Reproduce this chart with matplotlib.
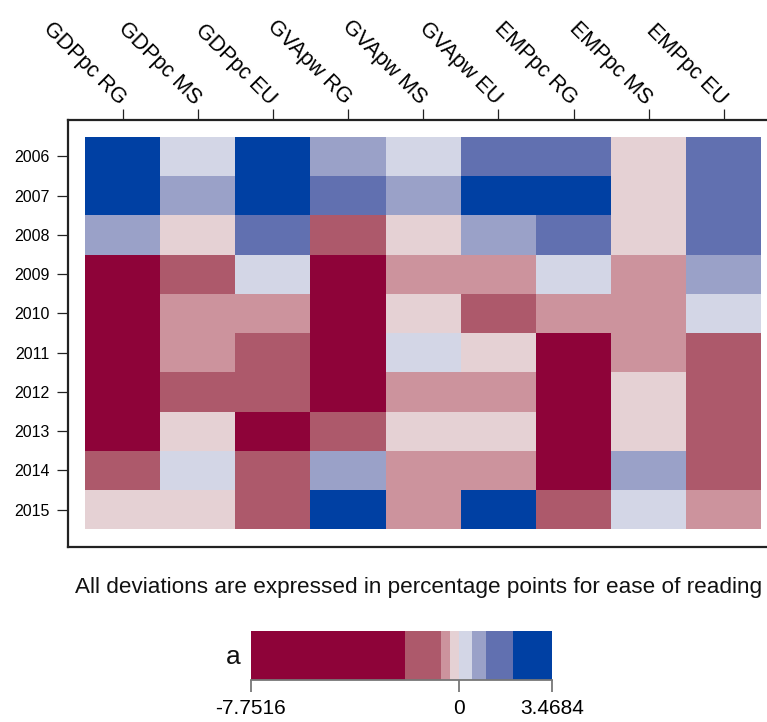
import numpy as np
import matplotlib
matplotlib.use("Agg")
import matplotlib.pyplot as plt
from matplotlib.colors import ListedColormap, BoundaryNorm
from matplotlib.lines import Line2D

plt.rcParams['font.family'] = ['Liberation Sans', 'DejaVu Sans']

years = ["2006", "2007", "2008", "2009", "2010", "2011", "2012", "2013", "2014", "2015"]
indicators = ["GDPpc RG", "GDPpc MS", "GDPpc EU", "GVApw RG", "GVApw MS",
              "GVApw EU", "EMPpc RG", "EMPpc MS", "EMPpc EU"]

gdppc_rg = [2.9, 3.4684, 0.8, -7.7516, -5.2, -4.1, -3.6, -2.8, -1.4, -0.2]
gdppc_ms = [0.3, 0.7, -0.1, -1.3, -0.5, -0.4, -1.1, -0.2, 0.2, -0.1]
gdppc_eu = [2.6, 2.4, 1.4, 0.3, -0.5, -1.0, -1.2, -2.3, -1.1, -0.9]
gvapw_rg = [0.8, 1.6, -1.5, -6.3, -4.4, -3.9, -2.7, -1.6, 0.7, 2.5]
gvapw_ms = [0.2, 0.6, -0.2, -0.4, -0.1, 0.3, -0.5, -0.2, -0.45, -0.5]
gvapw_eu = [1.3, 2.2, 0.6, -0.5, -1.1, -0.15, -0.4, -0.1, -0.4, 2.1]
emppc_rg = [1.7, 2.8, 1.2, 0.4, -0.6, -2.6, -3.1, -2.9, -2.2, -1.8]
emppc_ms = [-0.1, -0.2, -0.2, -0.5, -0.4, -0.5, -0.2, -0.15, 0.8, 0.4]
emppc_eu = [1.4, 1.3, 1.1, 0.9, 0.3, -1.3, -1.5, -1.2, -1.0, -0.6]

breaks = [-7.7516, -2.0, -0.67, -0.33, 0.0, 0.5, 1.0, 2.0, 3.4684]
bin_colors = ["#8E0339", "#AD596B", "#CC939D", "#E5D1D4",
              "#D3D6E6", "#9AA1C8", "#6170B0", "#0040A3"]
cbar_ticks = [-7.7516, 0, 3.4684]
caption = "All deviations are expressed in percentage points for ease of reading"

values = np.column_stack([gdppc_rg, gdppc_ms, gdppc_eu, gvapw_rg, gvapw_ms,
                          gvapw_eu, emppc_rg, emppc_ms, emppc_eu])

cmap = ListedColormap(bin_colors)
norm = BoundaryNorm(breaks, cmap.N)

W, H = 767, 722
fig = plt.figure(figsize=(W / 100, H / 100), dpi=100)

# main axes (frame extends past the right edge as in the reference)
left, right, top, bottom = 67.7, 778.7, 119.5, 546.7
ax = fig.add_axes([left / W, 1 - bottom / H, (right - left) / W, (bottom - top) / H])

nrow, ncol = values.shape
xe = np.arange(ncol + 1) + 0.5
ye = np.arange(nrow + 1) - 0.5
ax.pcolormesh(xe, ye, values, cmap=cmap, norm=norm, shading='flat',
              edgecolors='none', antialiased=False)
ax.set_xlim(0.5 - 0.23, ncol + 0.5 + 0.23)
ax.set_ylim(nrow - 0.5 + 0.443, -0.5 - 0.44)

for s in ax.spines.values():
    s.set_linewidth(1.6)
    s.set_color('#222222')

ax.set_xticks(np.arange(1, ncol + 1))
ax.set_xticklabels(indicators)
ax.xaxis.tick_top()
ax.tick_params(axis='x', which='both', top=True, bottom=False, labeltop=True,
               labelbottom=False, length=8, width=0.9, color='#222222', pad=5,
               labelsize=15.5)
for lab in ax.get_xticklabels():
    lab.set_rotation(-45)
    lab.set_ha('right')
    lab.set_va('center')
    lab.set_rotation_mode('anchor')

ax.set_yticks(np.arange(nrow))
ax.set_yticklabels(years)
ax.tick_params(axis='y', length=8, width=0.9, color='#222222', pad=5,
               labelsize=11.5)

fig.text(75 / W, 1 - 587 / H, caption, ha='left', va='center', fontsize=16.2,
         color='#111111')

# colorbar
cl, cr, ct, cbm = 250.5, 552.3, 631.0, 680.0
cax = fig.add_axes([cl / W, 1 - cbm / H, (cr - cl) / W, (cbm - ct) / H])
sm = matplotlib.cm.ScalarMappable(norm=norm, cmap=cmap)
cb = fig.colorbar(sm, cax=cax, orientation='horizontal', spacing='proportional',
                  ticks=cbar_ticks)
cb.outline.set_visible(False)
cb.set_ticklabels(["-7.7516", "0", "3.4684"])
cax.tick_params(axis='x', length=8.5, width=1.3, color='#777777', pad=5.5,
                labelsize=15)
cax.xaxis.set_tick_params(which='minor', length=0)
fig.add_artist(Line2D([cl / W, cr / W], [1 - cbm / H, 1 - cbm / H],
                      color='#777777', linewidth=1.3, transform=fig.transFigure))
fig.text(233 / W, 1 - 657 / H, "a", ha='center', va='center', fontsize=19,
         color='#111111')

fig.savefig("out.png", dpi=100)
